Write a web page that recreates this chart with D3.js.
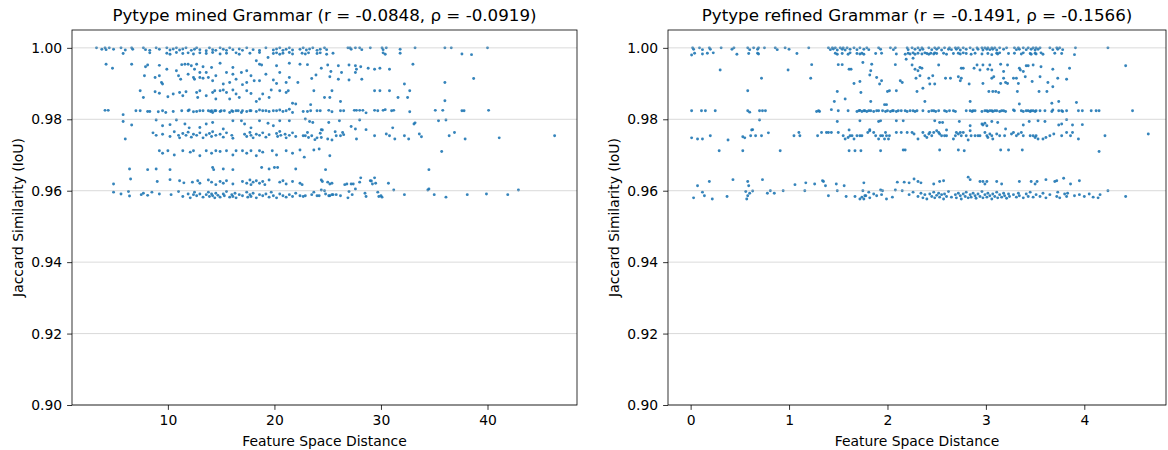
<!DOCTYPE html>
<html>
<head>
<meta charset="utf-8">
<script src="https://cdn.jsdelivr.net/npm/d3@7"></script>
<style>
  body { margin: 0; background: #fff; }
  svg text { font-family: "DejaVu Sans", sans-serif; fill: #000; }
</style>
</head>
<body>
<div id="wrapper"></div>
<script>
// titles and ticks
const minedTitle = "Pytype mined Grammar (r = -0.0848, ρ = -0.0919)"
const refinedTitle = "Pytype refined Grammar (r = -0.1491, ρ = -0.1566)"
const yTicks = [0.90, 0.92, 0.94, 0.96, 0.98, 1.00]
const minedXTicks = [10, 20, 30, 40]
const refinedXTicks = [0, 1, 2, 3, 4]
const xLabel = "Feature Space Distance"
const yLabel = "Jaccard Similarity (IoU)"

// mined grammar: [distance, IoU]
const minedTop = [[3.3,1.0],[3.8,0.9996],[4.1,1.0],[4.2,0.9995],[4.5,1.0],[4.9,0.9996],[5.6,1.0],[6.0,0.9994],[6.6,1.0],[6.7,0.9996],[7.7,1.0],[7.9,0.9995],[8.3,0.9993],[8.9,1.0],[9.2,0.9996],[9.9,1.0],[10.2,0.9994],[10.5,0.9997],[10.8,1.0],[11.1,0.9994],[11.4,0.9997],[11.7,1.0],[12.2,0.9993],[12.5,0.9996],[12.7,1.0],[13.0,0.9995],[13.6,0.9992],[13.9,1.0],[14.2,0.9995],[14.5,0.9993],[14.9,1.0],[15.2,0.9996],[15.5,0.9993],[15.8,1.0],[16.1,0.9995],[16.7,0.9997],[17.0,0.9993],[17.4,1.0],[18.0,0.9995],[18.6,0.9993],[19.2,1.0],[19.9,0.9994],[20.2,0.9997],[20.5,1.0],[20.8,0.9993],[21.1,0.9996],[21.4,1.0],[21.7,0.9994],
  [22.4,0.9996],[22.7,1.0],[23.0,0.9994],[23.3,0.9997],[23.6,1.0],[24.0,0.9993],[24.3,0.9996],[24.7,1.0],[24.9,0.9995],[26.9,1.0],[27.1,1.0],[27.2,0.9996],[27.6,1.0],[28.0,1.0],[28.2,0.9995],[29.0,1.0],[30.1,1.0],[30.2,0.9995],[30.5,1.0],[31.8,0.9996],[33.2,1.0],[36.0,1.0],[36.6,1.0],[40.0,1.0],
  [5.8,0.9984],[8.3,0.9986],[9.9,0.9985],[10.2,0.9982],[10.8,0.9987],[11.4,0.9984],[11.9,0.9986],[12.4,0.9983],[13.0,0.9986],[13.6,0.9984],[14.2,0.9987],[14.9,0.9983],[15.5,0.9985],[16.4,0.9986],[16.7,0.9982],[17.7,0.9985],[18.6,0.9987],[19.9,0.9984],[20.2,0.9986],[20.5,0.9982],[20.8,0.9985],[21.4,0.9987],[21.7,0.9983],[22.6,0.9985],[22.9,0.9983],[23.2,0.9986],[24.0,0.9984],[24.3,0.9986],[24.9,0.9982],[25.5,0.9985],[30.2,0.9986],[30.4,0.9982],[31.8,0.9985],[37.6,0.9983],[38.5,0.9981]]
const minedUpper = [[4.2,0.9954],[4.8,0.9943],[6.6,0.9954],[7.9,0.9947],[8.1,0.9952],[9.2,0.9951],[9.9,0.994],[10.8,0.9936],[11.3,0.9953],[11.6,0.9954],[11.9,0.9954],[12.2,0.995],[12.5,0.994],[12.7,0.9954],[13.0,0.9931],[13.3,0.9947],[13.6,0.9931],[14.1,0.9945],[14.9,0.9957],[15.5,0.9931],[16.1,0.9945],[16.9,0.9931],[17.4,0.9936],[18.3,0.9964],[18.6,0.9954],[18.8,0.9952],[19.4,0.9973],[20.2,0.995],[20.5,0.9931],[21.4,0.9957],
  [7.8,0.9922],[8.8,0.9917],[9.2,0.9922],[9.4,0.9903],[9.5,0.9899],[11.0,0.9922],[11.2,0.9912],[11.9,0.9926],[12.4,0.9917],[12.5,0.9912],[13.0,0.9917],[13.3,0.9915],[13.8,0.9917],[14.2,0.9908],[14.5,0.9922],[15.2,0.9899],[15.8,0.9903],[16.1,0.9926],[16.4,0.9912],[17.0,0.9897],[17.4,0.9903],[17.8,0.9922],[18.1,0.9908],[18.6,0.9908],[19.2,0.9926],[19.9,0.991],[20.2,0.99],[21.1,0.9903],[21.4,0.9917],[22.2,0.9903],
  [7.4,0.988],[7.7,0.9861],[8.8,0.9877],[9.2,0.9873],[10.0,0.9863],[10.5,0.9871],[11.1,0.9875],[11.4,0.9866],[11.7,0.9877],[12.7,0.9875],[12.8,0.9861],[13.0,0.988],[13.6,0.9866],[14.2,0.9875],[14.4,0.988],[14.5,0.9857],[14.9,0.988],[15.2,0.9882],[15.5,0.9875],[15.8,0.9857],[16.1,0.9882],[16.4,0.9871],[16.7,0.9861],[17.4,0.988],[17.8,0.9872],[18.3,0.985],[18.6,0.9857],[18.9,0.9871],[19.5,0.9861],[19.7,0.9882],[20.5,0.988],[21.1,0.9875],[21.3,0.988],[21.7,0.9845],[22.0,0.9843],
  [22.4,0.9954],[23.1,0.9953],[24.4,0.9943],[25.0,0.9952],[26.0,0.995],[27.0,0.9952],[27.6,0.995],[27.7,0.994],[28.1,0.9947],[28.8,0.9943],[29.4,0.994],[29.9,0.9943],[30.8,0.994],[33.0,0.9954],[25.3,0.9934],[26.3,0.9931],[27.6,0.9931],[23.9,0.9924],[23.5,0.9914],[25.2,0.9919],[26.0,0.9912],[27.0,0.991],[28.2,0.9912],[32.2,0.9899],[36.0,0.9903],[38.7,0.9914],[23.7,0.988],[25.4,0.988],[29.4,0.988],[29.9,0.988],[30.8,0.988],[32.7,0.988],[24.7,0.9861],[25.2,0.9861],[31.6,0.9861],[32.5,0.9861],[26.2,0.985],[36.0,0.9852],[23.4,0.9841]]
const mined982 = [[4.1,0.9825],[4.4,0.9825],[5.8,0.9813],[7.0,0.9824],[7.4,0.9824],[8.1,0.9822],[8.3,0.9822],[9.1,0.9821],[9.5,0.9824],[9.8,0.9819],[10.5,0.9822],[11.3,0.9824],[11.9,0.9824],[12.0,0.9826],[12.4,0.9821],[12.7,0.9822],[13.0,0.9824],[13.3,0.9824],[13.8,0.9824],[14.0,0.9822],[14.1,0.9824],[14.2,0.9819],[14.4,0.9824],[14.5,0.9824],[14.9,0.9822],[15.0,0.9824],[15.3,0.9824],[15.8,0.9819],[16.0,0.9824],[16.1,0.9822],[16.4,0.9824],[16.6,0.9824],[16.9,0.9819],[17.0,0.9824],[17.4,0.9822],[17.7,0.9824],[17.8,0.9824],[18.3,0.9822],[18.6,0.9826],[18.9,0.9824],[19.2,0.9824],[19.5,0.9822],[19.9,0.9824],[20.2,0.9824],[20.5,0.9826],[20.8,0.9822],[21.1,0.9824],[21.4,0.9828],[21.7,0.9819],
  [22.7,0.9822],[23.1,0.9822],[23.4,0.9824],[24.0,0.9824],[24.3,0.9824],[25.1,0.9825],[25.4,0.9821],[26.2,0.9824],[26.5,0.9824],[27.5,0.9825],[27.7,0.9825],[28.0,0.9825],[28.3,0.9825],[28.6,0.9818],[29.4,0.9825],[29.7,0.9824],[30.2,0.9825],[30.4,0.9827],[31.0,0.9824],[31.2,0.9825],[32.7,0.9821],[35.1,0.9825],[35.8,0.9825],[37.6,0.9824],[37.8,0.9824],[40.1,0.9825],
  [5.8,0.9794],[6.6,0.9784],[8.9,0.9798],[9.5,0.9782],[10.2,0.9785],[10.8,0.9798],[11.6,0.9787],[12.0,0.9776],[13.0,0.9777],[13.6,0.9787],[14.2,0.9791],[15.2,0.9773],[16.1,0.9796],[16.9,0.9796],[17.2,0.9787],[17.8,0.9776],[18.6,0.9796],[19.4,0.9789],[19.9,0.9782],[20.5,0.9796],[21.4,0.9796],
  [22.9,0.9801],[23.3,0.9794],[23.6,0.9791],[25.1,0.9791],[26.1,0.9796],[28.0,0.9798],[33.1,0.9787],[33.2,0.979],[35.4,0.9796],[36.1,0.9798],[24.4,0.9771],[27.2,0.978],[27.6,0.9773],[28.6,0.9771],[31.1,0.9776]]
const mined976 = [[6.0,0.9745],[8.6,0.9762],[8.9,0.9755],[9.5,0.9758],[10.2,0.9752],[10.6,0.9765],[11.0,0.9755],[11.1,0.9748],[11.4,0.976],[11.7,0.9755],[11.9,0.9764],[12.2,0.975],[12.4,0.9758],[12.7,0.9755],[13.0,0.9762],[13.3,0.9748],[13.6,0.9756],[13.9,0.976],[14.1,0.9752],[14.2,0.9765],[14.5,0.9755],[14.9,0.9758],[15.2,0.975],[15.5,0.9762],[16.0,0.9755],[16.1,0.9747],[17.2,0.9758],[17.4,0.9752],[17.7,0.9763],[17.8,0.9755],[18.0,0.9748],[18.3,0.9758],[18.6,0.9755],[18.9,0.9762],[19.2,0.975],[19.5,0.9757],[20.2,0.976],[20.3,0.9752],[20.5,0.9766],[20.6,0.9755],[21.0,0.9758],[21.1,0.9748],[21.4,0.9755],[21.7,0.9762],[22.0,0.9752],
  [22.7,0.9754],[22.9,0.9754],[23.1,0.9763],[23.2,0.9749],[23.5,0.9754],[23.8,0.9743],[24.0,0.9748],[24.3,0.9761],[24.4,0.9749],[24.5,0.977],[25.0,0.9745],[25.4,0.9742],[25.7,0.9765],[25.8,0.9754],[26.2,0.9754],[26.4,0.9763],[26.5,0.9757],[27.7,0.9745],[29.4,0.9754],[30.5,0.9759],[30.8,0.9754],[31.3,0.9745],[32.2,0.9754],[32.6,0.9745],[33.6,0.9759],[33.8,0.9751],[36.4,0.9754],[36.9,0.9763],[37.9,0.9745],[41.1,0.9748],[46.3,0.9754]]
const mined971 = [[9.2,0.9712],[9.5,0.9705],[10.0,0.9712],[10.6,0.97],[11.4,0.9712],[12.1,0.9708],[12.4,0.9712],[13.0,0.9698],[13.6,0.9712],[14.1,0.9705],[14.5,0.9712],[14.9,0.971],[15.5,0.9712],[16.1,0.97],[16.4,0.9712],[17.0,0.9712],[17.4,0.9705],[17.8,0.9712],[18.3,0.9698],[18.6,0.9712],[18.9,0.9708],[19.8,0.9712],[20.2,0.97],[21.1,0.9712],[21.7,0.9705],[22.4,0.9714],[22.8,0.9694],[23.7,0.9714],[24.2,0.9717],[25.2,0.9698],[35.7,0.971],
  [6.4,0.9661],[8.1,0.9659],[8.9,0.9661],[10.2,0.9659],[14.2,0.9665],[14.3,0.9659],[15.2,0.9661],[16.1,0.9659],[18.8,0.9665],[19.5,0.9661],[20.0,0.9665],[20.3,0.9665],[22.0,0.9661],[24.8,0.9659],[34.5,0.9659],[4.9,0.9619],[6.5,0.9633]]
const mined962 = [[9.0,0.9626],[10.2,0.9631],[11.1,0.9628],[11.5,0.9622],[12.3,0.9624],[12.8,0.9628],[13.0,0.9621],[13.8,0.963],[14.1,0.9624],[14.5,0.9617],[14.9,0.9626],[15.2,0.9621],[15.5,0.9628],[16.1,0.9619],[17.0,0.9626],[17.4,0.9621],[17.7,0.963],[17.8,0.9617],[18.0,0.9624],[18.3,0.9628],[18.6,0.9621],[18.9,0.9626],[19.1,0.9617],[19.5,0.963],[20.5,0.9624],[20.8,0.9628],[21.1,0.9619],[21.7,0.9626],
  [22.4,0.9621],[22.6,0.9617],[24.4,0.963],[24.5,0.9626],[25.0,0.9624],[25.2,0.9619],[25.4,0.9621],[26.6,0.9617],[26.8,0.9619],[27.2,0.9619],[27.4,0.9619],[27.6,0.9605],[28.0,0.9624],[28.1,0.9636],[29.0,0.9628],[29.1,0.9627],[29.2,0.9619],[29.4,0.9636],[29.5,0.9621],[30.7,0.9621],[31.2,0.9602],[34.4,0.9602],[34.5,0.9605]]
const mined959 = [[4.9,0.9596],[5.6,0.9591],[6.3,0.9598],[6.4,0.9585],[7.5,0.9589],[7.7,0.9593],[8.1,0.9587],[8.5,0.9596],[9.2,0.9591],[10.3,0.9589],[11.0,0.9598],[11.4,0.9584],[11.9,0.9591],[12.1,0.958],[12.4,0.9589],[12.5,0.9596],[12.7,0.9586],[13.0,0.9591],[13.3,0.9582],[13.6,0.9589],[13.8,0.9596],[13.9,0.9584],[14.1,0.9591],[14.2,0.9586],[14.4,0.958],[14.5,0.9593],[14.7,0.9587],[14.9,0.9582],[15.2,0.9591],[15.3,0.9586],[15.5,0.9598],[15.8,0.9582],[16.0,0.9589],[16.1,0.9584],[16.3,0.9593],[16.4,0.958],[16.7,0.9589],[17.0,0.9586],[17.4,0.9596],[17.5,0.9582],[17.7,0.9589],[17.8,0.9584],[18.0,0.9593],[18.3,0.958],[18.6,0.9589],[18.9,0.9586],[19.2,0.9591],[19.5,0.9582],[19.7,0.9596],[19.9,0.9586],[20.2,0.958],[20.5,0.9591],[20.8,0.9586],[21.1,0.9582],[21.4,0.9589],[21.7,0.9584],[22.0,0.9593],
  [22.4,0.9586],[22.7,0.9584],[22.9,0.9586],[23.5,0.9589],[23.7,0.9596],[24.0,0.9586],[24.2,0.9586],[24.4,0.9602],[24.7,0.96],[24.8,0.9591],[25.1,0.9586],[25.2,0.9586],[25.4,0.9589],[25.5,0.9589],[25.8,0.9589],[26.2,0.9586],[26.9,0.958],[27.0,0.9598],[27.3,0.9589],[28.5,0.9593],[28.6,0.9584],[29.7,0.9596],[29.8,0.9584],[30.0,0.9586],[30.1,0.9582],[32.2,0.9589],[35.0,0.9589],[36.1,0.9582],[38.1,0.9589],[39.9,0.9591],[41.9,0.9589],[42.9,0.9602]]

// refined grammar: [distance, IoU]
const refinedTop = [[0.02,1.0],[0.03,0.9996],[0.09,1.0],[0.12,0.9995],[0.19,1.0],[0.2,0.9996],[0.31,1.0],[0.42,0.9996],[0.44,1.0],[0.58,1.0],[0.6,0.9995],[0.64,1.0],[0.68,0.9996],[0.69,1.0],[0.75,1.0],[0.86,1.0],[0.88,0.9995],[0.96,1.0],[1.0,0.9996],[1.2,1.0],[1.4,1.0],[1.42,0.9995],[1.44,1.0],[1.45,0.9997],[1.47,1.0],[1.49,0.9994],[1.52,1.0],[1.54,0.9996],[1.55,1.0],[1.57,0.9994],[1.59,1.0],[1.62,0.9996],[1.66,1.0],[1.69,0.9995],[1.72,1.0],[1.76,0.9996],[1.79,1.0],[1.81,0.9995],[1.91,1.0],[1.93,0.9996],[2.03,1.0],[2.06,0.9995],[2.08,1.0],
  [2.2,1.0],[2.21,0.9995],[2.25,1.0],[2.28,0.9996],[2.31,1.0],[2.33,0.9994],[2.35,1.0],[2.36,0.9996],[2.42,1.0],[2.45,0.9995],[2.48,1.0],[2.5,0.9996],[2.52,1.0],[2.55,0.9994],[2.58,1.0],[2.62,0.9996],[2.63,1.0],[2.65,0.9995],[2.69,1.0],[2.7,0.9996],[2.72,1.0],[2.74,0.9994],[2.77,1.0],[2.8,0.9996],[2.84,1.0],[2.87,0.9995],[2.91,1.0],[2.92,0.9996],[2.96,1.0],[2.97,0.9994],[2.99,1.0],[3.01,0.9996],[3.02,1.0],[3.04,0.9995],[3.06,1.0],[3.07,0.9996],[3.09,1.0],[3.11,0.9994],[3.14,1.0],[3.18,0.9996],[3.21,1.0],[3.29,1.0],[3.31,0.9995],[3.33,1.0],[3.34,0.9996],[3.38,1.0],[3.41,0.9995],[3.43,1.0],[3.46,0.9996],[3.48,1.0],[3.5,0.9994],[3.51,1.0],[3.53,0.9996],[3.55,1.0],[3.65,1.0],[3.68,0.9995],[3.72,1.0],[3.73,0.9996],[3.75,1.0],[3.78,0.9995],[3.91,1.0],[4.24,1.0],
  [0.01,0.998],[0.04,0.9985],[0.12,0.9983],[0.17,0.9985],[0.23,0.9986],[0.47,0.9982],[0.59,0.9984],[0.68,0.9985],[0.69,0.9983],[1.08,0.9984],[1.47,0.9985],[1.49,0.9982],[1.54,0.9984],[1.6,0.9982],[1.62,0.9986],[1.69,0.9984],[1.72,0.9983],[1.74,0.9985],[1.76,0.9982],[1.88,0.9984],[1.94,0.9985],[2.09,0.9983],
  [2.18,0.9982],[2.21,0.9985],[2.23,0.9983],[2.26,0.9986],[2.28,0.9982],[2.31,0.9985],[2.35,0.9983],[2.38,0.9986],[2.4,0.9984],[2.42,0.9982],[2.44,0.9985],[2.47,0.9983],[2.48,0.9986],[2.5,0.9984],[2.57,0.9985],[2.6,0.9982],[2.67,0.9984],[2.72,0.9985],[2.74,0.9983],[2.77,0.9986],[2.8,0.9984],[2.85,0.9982],[2.89,0.9985],[2.96,0.9983],[3.02,0.9984],[3.06,0.9981],[3.11,0.9985],[3.12,0.9983],[3.14,0.9986],[3.23,0.9984],[3.29,0.9985],[3.36,0.9983],[3.38,0.9986],[3.45,0.9984],[3.46,0.9982],[3.5,0.9985],[3.51,0.9983],[3.56,0.9986],[3.58,0.9982],[3.7,0.9985],[3.77,0.9984],[3.9,0.9981]]
const refinedUpper = [[1.23,0.9953],[1.5,0.9953],[1.54,0.9953],[1.75,0.9959],[1.84,0.9954],[2.08,0.9953],[0.3,0.9938],[0.99,0.9938],[1.61,0.994],[1.63,0.994],[1.83,0.9936],[1.82,0.9924],[0.72,0.9915],[1.22,0.9915],[1.89,0.9917],[1.66,0.99],[1.72,0.9906],[1.92,0.9899],[1.94,0.9908],[0.58,0.988],[1.49,0.9878],[1.73,0.9875],[2.0,0.9878],[2.02,0.988],[2.09,0.988],[1.57,0.9857],[1.46,0.985],[1.83,0.985],[1.97,0.9841],[1.99,0.9841],
  [2.19,0.9968],[2.26,0.9971],[2.25,0.9952],[2.28,0.994],[2.31,0.9936],[2.33,0.9945],[2.35,0.9943],[2.52,0.9952],[2.75,0.9943],[2.77,0.9943],[2.88,0.9943],[2.91,0.9952],[2.94,0.9938],[2.97,0.9952],[3.02,0.994],[3.04,0.9952],[3.06,0.9938],[3.15,0.9954],[3.18,0.9934],[3.22,0.9952],[3.34,0.9943],[3.35,0.9938],[3.38,0.9934],[3.41,0.995],[3.43,0.995],[3.48,0.9952],[3.56,0.9947],[3.68,0.994],[3.85,0.9943],[4.42,0.995],
  [2.13,0.9908],[2.15,0.9903],[2.29,0.9915],[2.33,0.9922],[2.42,0.9915],[2.43,0.9899],[2.46,0.9922],[2.48,0.9899],[2.59,0.9915],[2.64,0.9915],[2.72,0.9919],[2.74,0.9908],[2.75,0.9915],[2.83,0.9899],[2.97,0.99],[3.06,0.9915],[3.08,0.9919],[3.15,0.99],[3.18,0.9915],[3.2,0.9903],[3.22,0.99],[3.28,0.9915],[3.31,0.9915],[3.33,0.99],[3.4,0.9919],[3.47,0.9906],[3.55,0.9919],[3.63,0.9903],[3.73,0.9915],[3.82,0.9912],
  [2.3,0.9878],[2.36,0.9887],[3.03,0.9878],[3.07,0.9878],[3.1,0.9878],[3.13,0.9875],[3.32,0.9878],[3.54,0.9878],[3.62,0.9878],[3.68,0.9891],
  [2.38,0.985],[2.84,0.985],[3.34,0.9843],[3.67,0.9845],[3.74,0.985],[3.92,0.9847]]
const refined982 = [[0.01,0.9824],[0.11,0.9824],[0.15,0.9824],[0.25,0.9824],[0.58,0.9824],[0.6,0.982],[0.7,0.9824],[0.73,0.9824],[0.76,0.9824],[1.28,0.9822],[1.3,0.9824],[1.31,0.9822],[1.43,0.9827],[1.5,0.9824],[1.6,0.9824],[1.69,0.9822],[1.71,0.9824],[1.72,0.9825],[1.74,0.9822],[1.76,0.9824],[1.77,0.9824],[1.79,0.9822],[1.81,0.9824],[1.83,0.9824],[1.86,0.9822],[1.89,0.9824],[1.91,0.9824],[1.95,0.9824],[1.98,0.9822],[2.0,0.9824],[2.03,0.9822],[2.05,0.9824],[2.06,0.9824],[2.09,0.9822],[2.11,0.9824],
  [2.14,0.9824],[2.18,0.9824],[2.2,0.9822],[2.23,0.9824],[2.26,0.9824],[2.28,0.9822],[2.3,0.9824],[2.36,0.9824],[2.42,0.9822],[2.45,0.9824],[2.47,0.9824],[2.49,0.9822],[2.52,0.9824],[2.58,0.9824],[2.6,0.9822],[2.63,0.9824],[2.67,0.9824],[2.69,0.9822],[2.8,0.9824],[2.84,0.9824],[2.86,0.9822],[2.87,0.9824],[2.89,0.9824],[2.96,0.9822],[2.99,0.9824],[3.01,0.9824],[3.02,0.9822],[3.04,0.9824],[3.06,0.9824],[3.07,0.9822],[3.09,0.9824],[3.11,0.9824],[3.14,0.9822],[3.16,0.9824],[3.18,0.9824],[3.2,0.9822],[3.28,0.9826],[3.29,0.9824],[3.36,0.9824],[3.38,0.9822],[3.41,0.9824],[3.43,0.9824],[3.45,0.9822],[3.46,0.9824],[3.48,0.9824],[3.5,0.9822],[3.51,0.9824],[3.55,0.9824],[3.6,0.9824],[3.67,0.9822],[3.68,0.9826],[3.74,0.9824],[3.77,0.9824],[3.78,0.9822],[3.82,0.9824],[3.94,0.9824],[3.98,0.9824],[4.07,0.9824],[4.12,0.9824],[4.15,0.9824],[4.49,0.9824],
  [0.63,0.9771],[0.7,0.9798],[1.49,0.9794],[1.61,0.977],[1.72,0.9796],[1.82,0.9771],[1.91,0.9794],[1.93,0.9796],[2.09,0.9796],
  [2.16,0.9796],[2.48,0.9796],[2.53,0.9791],[2.56,0.9791],[2.6,0.977],[2.73,0.9794],[2.84,0.9782],[2.96,0.9787],[2.97,0.9784],[2.99,0.9789],[3.01,0.9782],[3.06,0.9794],[3.12,0.9791],[3.2,0.9773],[3.38,0.9784],[3.44,0.9794],[3.53,0.9796],[3.6,0.9794],[3.74,0.9784],[3.77,0.9787],[3.82,0.9799],[3.88,0.9784],[3.98,0.9785]]
const refined976 = [[0.01,0.9748],[0.07,0.9745],[0.12,0.9745],[0.2,0.9754],[0.38,0.9742],[0.53,0.9751],[0.55,0.9748],[0.61,0.9754],[0.62,0.977],[0.66,0.9754],[0.72,0.9754],[0.79,0.9762],[1.05,0.9754],[1.1,0.9763],[1.11,0.9754],[1.29,0.9754],[1.33,0.9763],[1.38,0.9763],[1.4,0.9763],[1.43,0.9763],[1.5,0.9763],[1.55,0.9754],[1.57,0.9745],[1.6,0.9749],[1.62,0.9754],[1.64,0.9754],[1.66,0.9745],[1.69,0.9754],[1.72,0.9754],[1.74,0.9754],[1.8,0.9763],[1.82,0.9768],[1.86,0.9763],[1.88,0.9754],[1.91,0.9745],[1.93,0.9754],[1.95,0.9754],[1.97,0.9745],[1.98,0.9763],[1.99,0.9754],[2.01,0.9745],[2.02,0.9754],[2.09,0.9763],
  [2.14,0.9763],[2.2,0.9763],[2.25,0.9763],[2.27,0.9759],[2.31,0.9745],[2.36,0.9763],[2.38,0.9754],[2.4,0.9749],[2.42,0.9759],[2.43,0.9763],[2.45,0.9754],[2.47,0.9763],[2.5,0.9768],[2.52,0.9763],[2.53,0.9759],[2.55,0.9754],[2.58,0.9754],[2.6,0.9754],[2.67,0.9745],[2.69,0.9754],[2.7,0.9763],[2.72,0.9759],[2.74,0.9763],[2.75,0.9754],[2.77,0.9763],[2.8,0.9754],[2.82,0.9742],[2.84,0.9768],[2.85,0.9754],[2.89,0.9754],[2.92,0.9754],[2.94,0.9754],[2.99,0.9763],[3.01,0.9754],[3.02,0.9749],[3.04,0.9759],[3.06,0.9754],[3.07,0.9745],[3.11,0.9759],[3.14,0.9754],[3.19,0.9754],[3.26,0.9759],[3.28,0.9763],[3.31,0.9754],[3.33,0.9759],[3.36,0.9763],[3.38,0.9754],[3.45,0.9754],[3.48,0.9754],[3.5,0.9749],[3.51,0.9754],[3.53,0.9745],[3.58,0.9745],[3.61,0.9749],[3.65,0.9754],[3.69,0.9759],[3.77,0.9754],[3.82,0.9763],[3.86,0.9754],[3.88,0.9763],[3.94,0.9745],[4.21,0.9754],[4.65,0.9759],
  [0.29,0.9712],[0.53,0.9712],[0.91,0.9712],[1.61,0.9712],[1.67,0.9712],[1.73,0.9712],[1.93,0.9712],[2.16,0.9714],[2.18,0.9714],[2.53,0.9714],[2.72,0.9714],[2.78,0.9712],[3.15,0.9714],[3.23,0.9714],[3.37,0.9714],[4.15,0.971]]
const refined962 = [[0.07,0.9614],[0.19,0.9626],[0.43,0.9631],[0.58,0.9626],[0.59,0.9614],[0.73,0.9631],[1.06,0.9617],[1.17,0.9622],[1.26,0.9619],[1.34,0.9628],[1.35,0.9626],[1.37,0.9614],[1.48,0.9619],[1.56,0.9614],[1.76,0.9622],[2.1,0.9624],
  [2.17,0.9624],[2.22,0.9622],[2.27,0.9633],[2.31,0.9626],[2.34,0.9622],[2.47,0.9619],[2.53,0.9626],[2.57,0.9628],[2.82,0.9638],[2.84,0.9631],[2.94,0.9626],[2.97,0.9626],[2.99,0.9619],[3.01,0.9626],[3.11,0.9626],[3.16,0.9619],[3.34,0.9626],[3.46,0.9626],[3.5,0.9619],[3.52,0.9626],[3.61,0.9631],[3.7,0.9626],[3.72,0.9628],[3.79,0.9635],[3.86,0.9619],[3.95,0.9628]]
const refined959 = [[0.03,0.958],[0.12,0.9596],[0.14,0.9586],[0.22,0.9577],[0.37,0.9584],[0.56,0.9598],[0.57,0.9577],[0.58,0.9586],[0.6,0.9593],[0.63,0.9599],[0.78,0.9593],[0.81,0.96],[0.85,0.9593],[0.94,0.96],[1.16,0.96],[1.4,0.9586],[1.49,0.96],[1.58,0.9584],[1.67,0.9584],[1.72,0.9577],[1.74,0.9582],[1.75,0.96],[1.76,0.9577],[1.77,0.9586],[1.78,0.9586],[1.81,0.9596],[1.82,0.958],[1.86,0.9591],[1.89,0.9586],[1.93,0.9602],[1.94,0.9589],[1.95,0.96],[1.99,0.9577],[2.05,0.9582],[2.08,0.9602],
  [2.15,0.96],[2.22,0.9589],[2.26,0.9596],[2.31,0.9584],[2.34,0.9593],[2.36,0.958],[2.38,0.9589],[2.4,0.9577],[2.43,0.9591],[2.45,0.9584],[2.47,0.9596],[2.48,0.958],[2.5,0.9587],[2.52,0.9593],[2.53,0.9582],[2.55,0.9589],[2.57,0.9577],[2.58,0.9591],[2.6,0.9584],[2.62,0.9598],[2.65,0.9582],[2.69,0.9589],[2.7,0.958],[2.72,0.9593],[2.74,0.9586],[2.75,0.9577],[2.77,0.9591],[2.79,0.9584],[2.8,0.9596],[2.82,0.958],[2.84,0.9589],[2.85,0.9582],[2.87,0.9593],[2.89,0.9586],[2.9,0.9579],[2.92,0.9591],[2.94,0.9584],[2.96,0.9598],[2.97,0.958],[2.99,0.9589],[3.01,0.9582],[3.02,0.9593],[3.04,0.9586],[3.06,0.9577],[3.07,0.9591],[3.09,0.9584],[3.11,0.9596],[3.12,0.958],[3.14,0.9589],[3.16,0.9582],[3.18,0.9593],[3.19,0.9586],[3.21,0.9579],[3.23,0.9591],[3.24,0.9584],[3.28,0.9589],[3.31,0.9582],[3.33,0.9593],[3.34,0.9586],[3.38,0.958],[3.41,0.9591],[3.43,0.9584],[3.45,0.9596],[3.48,0.9582],[3.51,0.9589],[3.55,0.9584],[3.58,0.9593],[3.61,0.958],[3.65,0.9589],[3.72,0.9584],[3.73,0.9596],[3.75,0.958],[3.8,0.9591],[3.82,0.9584],[3.83,0.9593],[3.9,0.9586],[3.95,0.9589],[4.0,0.9584],[4.05,0.9591],[4.09,0.9582],[4.14,0.958],[4.16,0.9589],[4.24,0.96],[4.42,0.9584]]

const minedPoints = [].concat(minedTop, minedUpper, mined982, mined976, mined971, mined962, mined959)
const refinedPoints = [].concat(refinedTop, refinedUpper, refined982, refined976, refined962, refined959)

// canvas
const dimensions = { width: 1168, height: 450, top: 30, bottom: 405 }

const wrapper = d3.select("#wrapper")
  .append("svg")
    .attr("width", dimensions.width)
    .attr("height", dimensions.height)

const yScale = d3.scaleLinear()
  .domain([0.9, 1.005])
  .range([dimensions.bottom, dimensions.top])

function drawPanel({ points, title, xTicks, xDomain, left, right }) {
  const xScale = d3.scaleLinear()
    .domain(xDomain)
    .range([left, right])

  const bounds = wrapper.append("g")

  // points first, matplotlib draws the grid above the scatter
  bounds.append("g").selectAll("circle")
    .data(points)
    .join("circle")
      .attr("cx", d => xScale(d[0]))
      .attr("cy", d => yScale(d[1]))
      .attr("r", 1.45)
      .attr("fill", "#1f77b4")
      .attr("fill-opacity", 0.9)

  bounds.append("g").selectAll("line")
    .data(yTicks)
    .join("line")
      .attr("x1", left)
      .attr("x2", right)
      .attr("y1", d => yScale(d))
      .attr("y2", d => yScale(d))
      .attr("stroke", "#b0b0b0")
      .attr("stroke-opacity", 0.6)
      .attr("stroke-width", 0.8)

  const xAxis = bounds.append("g")
    .attr("transform", `translate(0, ${dimensions.bottom})`)
    .call(d3.axisBottom(xScale)
      .tickValues(xTicks)
      .tickFormat(d3.format("d"))
      .tickSize(4.9)
      .tickPadding(4.9))
  xAxis.select(".domain").remove()

  const yAxis = bounds.append("g")
    .attr("transform", `translate(${left}, 0)`)
    .call(d3.axisLeft(yScale)
      .tickValues(yTicks)
      .tickFormat(d3.format(".2f"))
      .tickSize(4.9)
      .tickPadding(4.9))
  yAxis.select(".domain").remove()

  bounds.selectAll(".tick line").attr("stroke", "#000").attr("stroke-width", 0.8)
  bounds.selectAll(".tick text")
    .style("font-family", "DejaVu Sans")
    .style("font-size", "13.9px")
    .attr("fill", "#000")

  // frame
  bounds.append("rect")
    .attr("x", left)
    .attr("y", dimensions.top)
    .attr("width", right - left)
    .attr("height", dimensions.bottom - dimensions.top)
    .attr("fill", "none")
    .attr("stroke", "#000")
    .attr("stroke-width", 0.8)

  const center = (left + right) / 2
  bounds.append("text")
    .attr("x", center)
    .attr("y", 21)
    .attr("text-anchor", "middle")
    .style("font-size", "16.7px")
    .text(title)

  bounds.append("text")
    .attr("x", center)
    .attr("y", 446)
    .attr("text-anchor", "middle")
    .style("font-size", "13.9px")
    .text(xLabel)

  bounds.append("text")
    .attr("transform", `translate(${left - 54}, ${(dimensions.top + dimensions.bottom) / 2}) rotate(-90)`)
    .attr("dy", "0.35em")
    .attr("text-anchor", "middle")
    .style("font-size", "13.9px")
    .text(yLabel)
}

drawPanel({ points: minedPoints, title: minedTitle, xTicks: minedXTicks, xDomain: [1.0, 48.4], left: 72, right: 577 })
drawPanel({ points: refinedPoints, title: refinedTitle, xTicks: refinedXTicks, xDomain: [-0.23, 4.83], left: 668, right: 1166 })
</script>
</body>
</html>
